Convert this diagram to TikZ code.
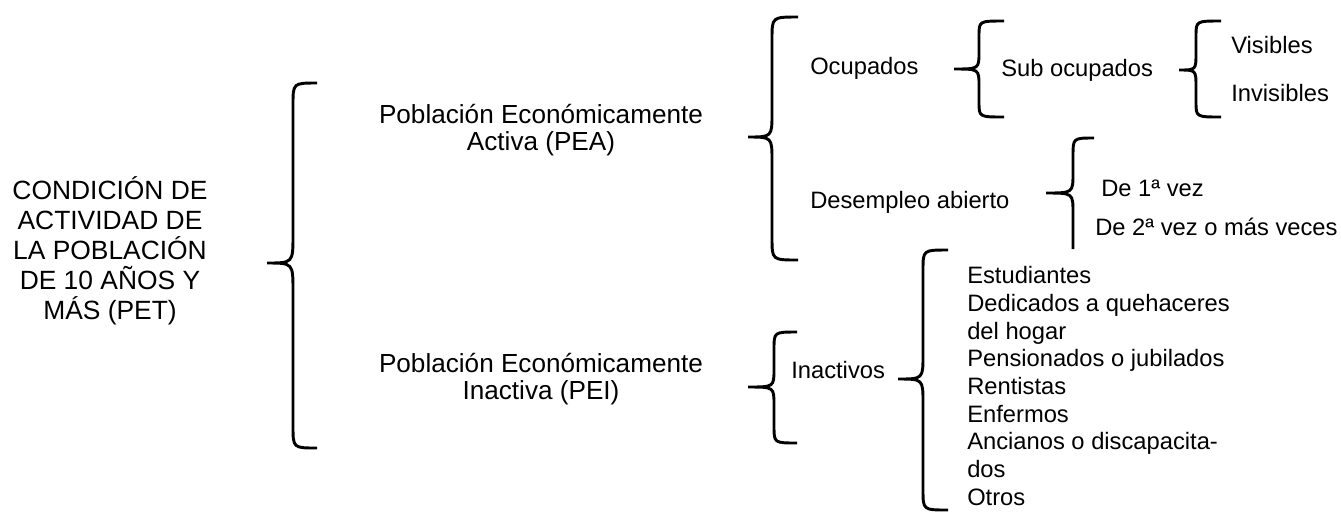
\documentclass[tikz,border=0pt]{standalone}
\usepackage{fontspec}
\setmainfont{Liberation Sans}
% #1 tip x, #2 stem x, #3 hook end x, #4 top y, #5 tip y, #6 bottom y, #7 hook height, #8 tip height
\newcommand\mybrace[8]{%
  \draw[bracestyle] (#3,#4) .. controls (#2,#4) .. (#2,#4+#7) -- (#2,#5-#8)
    .. controls (#2,#5) .. (#1,#5) .. controls (#2,#5) .. (#2,#5+#8)
    -- (#2,#6-#7) .. controls (#2,#6) .. (#3,#6);}
\tikzset{
  bracestyle/.style={line width=2.2pt, black},
  bigtxt/.style={inner sep=0pt, align=center, font=\fontsize{19.8pt}{22.5pt}\selectfont},
  poptxt/.style={inner sep=0pt, align=center, font=\fontsize{19.6pt}{20.2pt}\selectfont},
  midtxt/.style={inner sep=0pt, anchor=base west, font=\fontsize{17.8pt}{20.8pt}\selectfont},
  listtxt/.style={inner sep=0pt, anchor=west, align=left, font=\fontsize{17.8pt}{20.8pt}\selectfont}
}
\begin{document}
\begin{tikzpicture}[x=0.75pt,y=-0.75pt]
\useasboundingbox (0,0) rectangle (1341,512);
% texts
\node[bigtxt] (pet) at (110,251) {CONDICIÓN DE\\ACTIVIDAD DE\\LA POBLACIÓN\\DE 10 AÑOS Y\\MÁS (PET)};
\node[poptxt] (pea) at (541,130) {Población Económicamente\\Activa (PEA)};
\node[poptxt] (pei) at (541,379) {Población Económicamente\\Inactiva (PEI)};
\node[midtxt] (ocu) at (810,74) {Ocupados};
\node[midtxt] (des) at (810,208) {Desempleo abierto};
\node[midtxt] (sub) at (1001,76) {Sub ocupados};
\node[midtxt] (vis) at (1231,53) {Visibles};
\node[midtxt] (invis) at (1231,101) {Invisibles};
\node[midtxt] (uno) at (1101,196) {De 1ª vez};
\node[midtxt] (dos) at (1095,235) {De 2ª vez o más veces};
\node[midtxt] (inac) at (791,378) {Inactivos};
\node[listtxt] (lista) at (967,386) {Estudiantes\\Dedicados a quehaceres\\del hogar\\Pensionados o jubilados\\Rentistas\\Enfermos\\Ancianos o discapacita-\\dos\\Otros};
% braces
\mybrace{267}{293}{317}{83}{263}{448}{22}{28}
\mybrace{748}{772}{798}{17}{137}{260}{22}{24}
\mybrace{954}{979}{1004}{21}{69}{117}{15}{17}
\mybrace{1179}{1196}{1221}{21}{70}{117}{15}{17}
\mybrace{748}{774}{797}{332}{387}{443}{17}{18}
\mybrace{898}{923}{948}{250}{379}{510}{20}{24}
\draw[bracestyle] (1094,138) .. controls (1073,138) .. (1073,156) -- (1073,173)
    .. controls (1073,193) .. (1046,193) .. controls (1073,193) .. (1073,213) -- (1073,249);
\end{tikzpicture}
\end{document}
